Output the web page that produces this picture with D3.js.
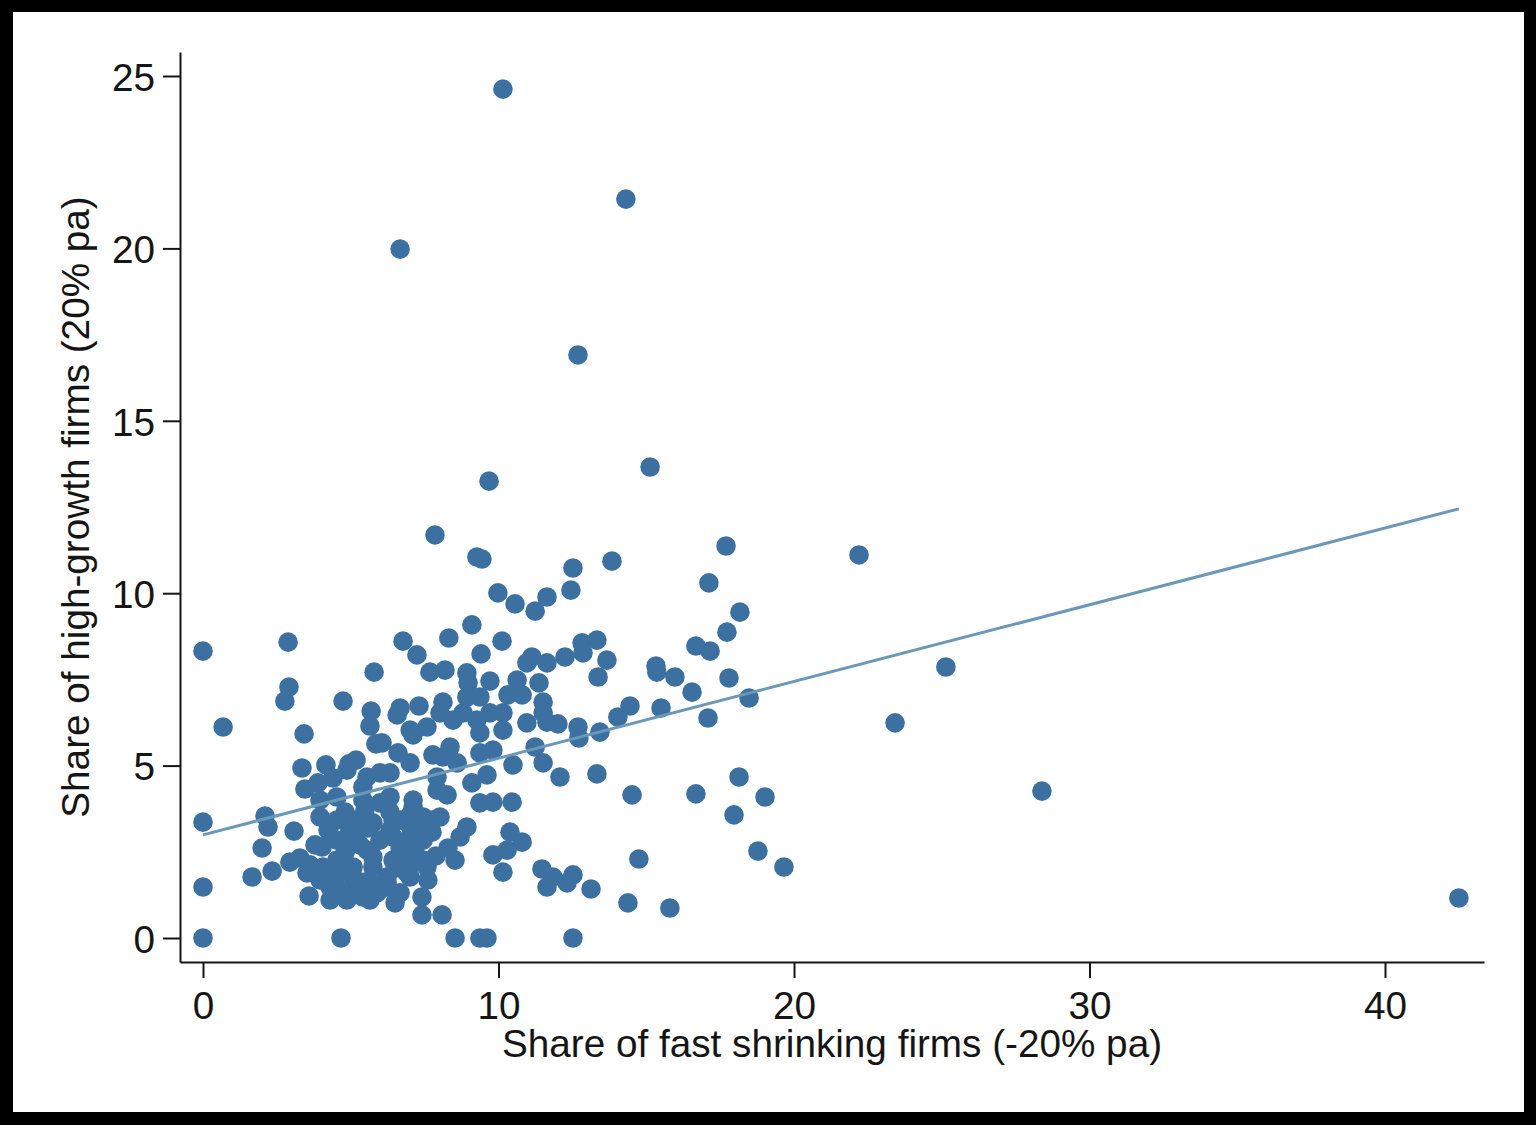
<!DOCTYPE html>
<html>
<head>
<meta charset="utf-8">
<script src="https://cdn.jsdelivr.net/npm/d3@7"></script>
<style>
    html, body { margin: 0; padding: 0; background: #000; }
    svg { display: block; }
</style>
</head>
<body>
<svg id="chart" width="1536" height="1125"></svg>
<script>
// share of fast shrinking firms (-20% pa), x values
var shrinkShare = [
    10.15, 14.31, 6.67, 12.69, 15.13, 9.68, 7.85, 9.27, 9.44, 13.84,
    12.52, 17.70, 22.20, 17.12, 12.45, 9.98, 10.56, 11.64, 11.24, 18.17,
    17.73, 9.10, 8.32, 10.12, 6.77, 2.88, 0, 7.24, 12.83, 13.33,
    12.25, 9.41, 11.13, 11.64, 13.67, 16.68, 17.16, 15.33, 15.36, 15.97,
    17.80, 25.14, 13.37, 5.79, 7.68, 8.19, 2.91, 2.77, 4.74, 0.68,
    3.42, 16.55, 18.48, 15.50, 17.09, 23.42, 14.45, 14.04, 13.43, 12.72,
    12.69, 3.35, 5.18, 13.33, 12.08, 18.14, 16.68, 14.52, 19.02, 28.39,
    17.97, 18.78, 19.66, 14.75, 12.52, 13.13, 14.38, 15.80, 42.50, 0,
    0, 0, 4.67, 8.53, 9.37, 9.61, 12.52, 2.10, 2.20, 3.08,
    2.00, 1.66, 2.34, 2.94,
    5.69, 5.65, 5.85, 6.57, 7.31, 7.01, 7.58, 6.60, 7.01, 4.16,
    4.87, 3.45, 3.89, 4.40, 3.96, 4.53, 5.55, 5.99, 6.33, 5.41,
    5.99, 3.96, 4.53, 5.21, 5.75, 6.67, 7.11, 7.34, 7.78, 4.03,
    4.53, 5.08, 5.55, 5.99, 6.43, 7.01, 7.45, 3.28, 3.52, 4.06,
    4.53, 5.08, 5.75, 6.23, 6.90, 7.58, 7.61, 3.59, 4.30, 4.87,
    5.41, 5.89, 4.30, 5.08, 6.23, 7.41, 7.41,
    8.93, 8.97, 9.71, 10.63, 10.96, 12.86, 11.37, 10.32, 10.80, 11.51,
    11.51, 10.96, 11.64, 12.01, 6.67, 8.12, 8.93, 9.37, 8.02, 8.46,
    8.80, 9.27, 9.71, 10.15, 10.15, 9.37, 7.11, 8.36, 8.12, 8.60,
    9.81, 9.37, 6.06, 11.24, 11.51, 10.49, 9.61, 9.10, 8.26, 7.92,
    9.37, 9.81, 10.46, 7.11, 6.23, 7.45, 8.02, 6.43, 8.93, 8.70,
    8.29, 8.53, 10.39, 10.80, 9.81, 10.29, 10.15, 6.67, 7.45, 7.01,
    6.23, 8.09, 11.47, 11.84, 11.64, 12.32, 7.78, 5.41, 6.33, 7.92,
    4.87, 3.62, 5.75, 6.43, 4.30, 5.08, 5.65, 4.94,
    4.81, 5.48, 6.33, 7.01, 4.23, 4.97, 5.58, 6.33, 7.01, 7.75,
    3.79, 4.81, 5.31, 6.67, 7.17, 7.88, 3.96, 4.64, 5.48, 6.50,
    7.17, 4.64, 5.82, 6.67, 6.50
];

// share of high-growth firms (20% pa), y values
var growthShare = [
    24.62, 21.43, 19.98, 16.91, 13.66, 13.25, 11.69, 11.05, 10.99, 10.93,
    10.73, 11.37, 11.11, 10.30, 10.09, 10.01, 9.69, 9.89, 9.48, 9.45,
    8.87, 9.08, 8.70, 8.61, 8.61, 8.58, 8.32, 8.21, 8.56, 8.64,
    8.15, 8.24, 8.15, 7.98, 8.06, 8.47, 8.32, 7.89, 7.71, 7.57,
    7.54, 7.86, 7.57, 7.71, 7.71, 7.77, 7.28, 6.87, 6.87, 6.12,
    5.92, 7.13, 6.96, 6.67, 6.38, 6.24, 6.73, 6.41, 5.97, 5.80,
    6.12, 4.93, 5.16, 4.76, 4.67, 4.67, 4.18, 4.15, 4.09, 4.26,
    3.57, 2.52, 2.06, 2.29, 1.83, 1.42, 1.02, 0.87, 1.16, 3.36,
    1.48, 0, 0, 0, 0, 0, 0, 3.54, 3.22, 3.10,
    2.61, 1.77, 1.94, 2.20,
    6.58, 6.15, 5.63, 6.47, 6.73, 6.03, 6.12, 5.37, 5.08, 5.02,
    4.87, 4.32, 4.50, 4.64, 4.00, 4.09, 4.67, 4.79, 4.79, 4.00,
    3.92, 3.51, 3.42, 3.42, 3.34, 3.42, 3.80, 3.22, 3.42, 2.64,
    2.84, 2.93, 2.55, 2.84, 2.93, 2.93, 2.84, 2.32, 1.89, 2.06,
    2.26, 2.06, 2.06, 1.77, 1.89, 2.06, 1.68, 1.22, 1.10, 1.10,
    1.19, 1.31, 1.48, 1.48, 1.48, 1.19, 0.67,
    7.69, 7.40, 7.45, 7.48, 7.98, 8.27, 7.40, 7.05, 7.05, 6.84,
    6.53, 6.24, 6.26, 6.21, 6.67, 6.84, 6.99, 6.99, 6.53, 6.32,
    6.53, 6.32, 6.53, 6.53, 6.03, 5.95, 5.89, 5.54, 5.25, 5.08,
    5.45, 5.37, 5.66, 5.54, 5.08, 5.02, 4.73, 4.50, 4.15, 4.67,
    3.92, 3.94, 3.94, 4.00, 3.92, 3.51, 3.51, 3.42, 3.22, 2.93,
    2.61, 2.26, 3.07, 2.78, 2.41, 2.55, 1.91, 2.35, 2.26, 1.77,
    1.60, 0.67, 2.00, 1.77, 1.48, 1.60, 5.31, 4.38, 4.09, 4.29,
    2.78, 2.12, 2.35, 2.26, 1.68, 1.77, 1.10, 5.05,
    3.65, 3.71, 3.65, 3.57, 3.13, 3.13, 3.19, 3.13, 3.25, 3.07,
    2.70, 2.49, 2.70, 2.61, 2.52, 2.38, 1.68, 1.89, 1.62, 2.03,
    2.20, 1.39, 1.54, 1.31, 1.02
];

// linear fit: [intercept, slope]
var fitLine = [2.99, 0.2225];

var xTicks = [0, 10, 20, 30, 40];
var yTicks = [0, 5, 10, 15, 20, 25];

var xTitle = "Share of fast shrinking firms (-20% pa)";
var yTitle = "Share of high-growth firms (20% pa)";

var dotColor = "#3c70a0", fitColor = "#6a98b9", inkColor = "#151515";
var font = "'Liberation Sans', Arial, sans-serif";
var fontSize = "38.7px";

var svg = d3.select("#chart");

// black frame with white page inside
svg.append("rect").attr("width", 1536).attr("height", 1125).attr("fill", "#000");
svg.append("rect").attr("x", 13).attr("y", 12).attr("width", 1511).attr("height", 1100).attr("fill", "#fff");

// plot region: axis lines run from 180 to 1484 (x) and 52 to 962 (y)
var x = d3.scaleLinear()
    .domain([-23 / 29.55, 1281 / 29.55])
    .range([180, 1484]);

var y = d3.scaleLinear()
    .domain([-24 / 34.48, 886 / 34.48])
    .range([962, 52]);

var points = d3.zip(shrinkShare, growthShare);

svg.append("g")
    .selectAll("circle")
    .data(points)
    .enter()
    .append("circle")
    .attr("cx", function (d) { return x(d[0]); })
    .attr("cy", function (d) { return y(d[1]); })
    .attr("r", 9.8)
    .attr("fill", dotColor);

var xExt = d3.extent(shrinkShare);
var fitData = xExt.map(function (v) { return [v, fitLine[0] + fitLine[1] * v]; });

svg.append("path")
    .datum(fitData)
    .attr("fill", "none")
    .attr("stroke", fitColor)
    .attr("stroke-width", 3)
    .attr("d", d3.line()
        .x(function (d) { return x(d[0]); })
        .y(function (d) { return y(d[1]); }));

// axes
var xAxis = svg.append("g")
    .attr("transform", "translate(0,962)")
    .call(d3.axisBottom(x).tickValues(xTicks).tickSizeInner(16).tickSizeOuter(0).tickPadding(14));

var yAxis = svg.append("g")
    .attr("transform", "translate(180,0)")
    .call(d3.axisLeft(y).tickValues(yTicks).tickSizeInner(17).tickSizeOuter(0).tickPadding(8));

[xAxis, yAxis].forEach(function (ax) {
    ax.select(".domain").attr("stroke", inkColor).attr("stroke-width", 2);
    ax.selectAll(".tick line").attr("stroke", inkColor).attr("stroke-width", 2);
    ax.selectAll(".tick text")
        .attr("fill", inkColor)
        .style("font-family", font)
        .style("font-size", fontSize);
});
yAxis.selectAll(".tick text").attr("dy", "0.37em");

// axis titles
svg.append("text")
    .attr("x", 832)
    .attr("y", 1057)
    .attr("text-anchor", "middle")
    .attr("fill", inkColor)
    .style("font-family", font)
    .style("font-size", fontSize)
    .text(xTitle);

svg.append("text")
    .attr("transform", "translate(89,507) rotate(-90)")
    .attr("text-anchor", "middle")
    .attr("fill", inkColor)
    .style("font-family", font)
    .style("font-size", fontSize)
    .text(yTitle);
</script>
</body>
</html>
